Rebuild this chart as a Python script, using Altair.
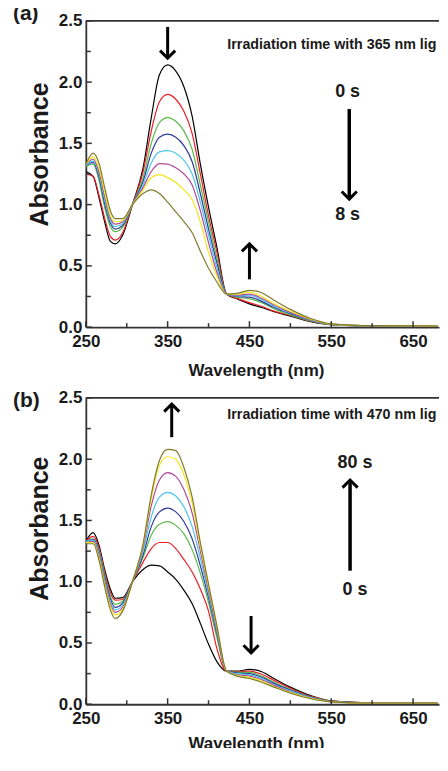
import altair as alt
import pandas as pd

# ---------------- data ----------------
wavelength = [250, 259, 266, 273, 280, 286, 295, 307, 320, 330, 340, 350, 360, 370,
              380, 390, 400, 410, 422, 435, 450, 465, 480, 500, 525, 550, 600, 680]

# (a) 365 nm irradiation, 0 s -> 8 s
a_black   = [1.27, 1.23, 1.06, 0.86, 0.70, 0.68, 0.75, 1.00, 1.30, 1.71, 2.06, 2.14, 2.09, 1.96,
             1.72, 1.33, 0.98, 0.66, 0.27, 0.23, 0.19, 0.16, 0.125, 0.09, 0.045, 0.02, 0.01, 0.01]
a_red     = [1.25, 1.23, 1.08, 0.89, 0.74, 0.71, 0.77, 1.00, 1.27, 1.60, 1.84, 1.90, 1.86, 1.76,
             1.58, 1.25, 0.91, 0.62, 0.27, 0.235, 0.20, 0.17, 0.13, 0.095, 0.048, 0.02, 0.01, 0.01]
a_green   = [1.31, 1.33, 1.20, 0.98, 0.82, 0.78, 0.815, 1.00, 1.22, 1.50, 1.67, 1.71, 1.68, 1.60,
             1.45, 1.16, 0.86, 0.57, 0.27, 0.245, 0.23, 0.20, 0.15, 0.10, 0.05, 0.02, 0.01, 0.01]
a_blue    = [1.32, 1.345, 1.23, 1.01, 0.85, 0.80, 0.83, 1.00, 1.19, 1.42, 1.55, 1.575, 1.55, 1.48,
             1.35, 1.09, 0.80, 0.53, 0.27, 0.25, 0.245, 0.21, 0.16, 0.11, 0.055, 0.022, 0.01, 0.01]
a_cyan    = [1.32, 1.355, 1.25, 1.04, 0.87, 0.82, 0.845, 1.00, 1.16, 1.34, 1.43, 1.44, 1.42, 1.36,
             1.25, 1.02, 0.75, 0.49, 0.27, 0.255, 0.26, 0.225, 0.17, 0.115, 0.057, 0.023, 0.01, 0.01]
a_magenta = [1.33, 1.37, 1.27, 1.07, 0.89, 0.84, 0.86, 1.00, 1.14, 1.27, 1.335, 1.33, 1.30, 1.25,
             1.16, 0.95, 0.69, 0.45, 0.27, 0.26, 0.27, 0.235, 0.18, 0.12, 0.06, 0.024, 0.01, 0.01]
a_yellow  = [1.33, 1.39, 1.30, 1.10, 0.91, 0.86, 0.87, 1.00, 1.12, 1.22, 1.245, 1.22, 1.18, 1.12,
             1.04, 0.86, 0.61, 0.42, 0.27, 0.27, 0.285, 0.25, 0.19, 0.13, 0.065, 0.025, 0.012, 0.01]
a_olive   = [1.33, 1.42, 1.34, 1.14, 0.95, 0.885, 0.885, 1.00, 1.09, 1.12, 1.09, 1.02, 0.94, 0.86,
             0.77, 0.62, 0.48, 0.37, 0.27, 0.275, 0.30, 0.28, 0.22, 0.145, 0.07, 0.027, 0.012, 0.01]

# (b) 470 nm irradiation, 0 s -> 80 s
b_black   = [1.33, 1.40, 1.30, 1.10, 0.94, 0.865, 0.87, 1.00, 1.10, 1.135, 1.13, 1.08, 1.02, 0.93,
             0.82, 0.66, 0.49, 0.35, 0.27, 0.27, 0.285, 0.265, 0.21, 0.14, 0.07, 0.027, 0.012, 0.01]
b_red     = [1.33, 1.37, 1.28, 1.08, 0.91, 0.85, 0.855, 1.00, 1.16, 1.27, 1.32, 1.32, 1.27, 1.18,
             1.08, 0.94, 0.76, 0.46, 0.27, 0.265, 0.27, 0.245, 0.195, 0.13, 0.065, 0.025, 0.011, 0.01]
b_green   = [1.33, 1.35, 1.26, 1.06, 0.88, 0.815, 0.84, 1.00, 1.20, 1.38, 1.47, 1.49, 1.46, 1.39,
             1.26, 1.07, 0.83, 0.55, 0.27, 0.26, 0.26, 0.23, 0.18, 0.12, 0.06, 0.024, 0.011, 0.01]
b_blue    = [1.33, 1.345, 1.25, 1.04, 0.86, 0.79, 0.825, 1.00, 1.22, 1.45, 1.57, 1.60, 1.57, 1.49,
             1.35, 1.13, 0.87, 0.58, 0.27, 0.255, 0.25, 0.22, 0.17, 0.115, 0.058, 0.023, 0.01, 0.01]
b_cyan    = [1.33, 1.34, 1.24, 1.02, 0.84, 0.77, 0.81, 1.00, 1.25, 1.53, 1.69, 1.73, 1.70, 1.61,
             1.45, 1.19, 0.90, 0.60, 0.27, 0.25, 0.24, 0.21, 0.16, 0.11, 0.055, 0.022, 0.01, 0.01]
b_magenta = [1.32, 1.33, 1.22, 1.00, 0.82, 0.75, 0.79, 1.00, 1.28, 1.62, 1.83, 1.89, 1.86, 1.75,
             1.56, 1.25, 0.93, 0.62, 0.27, 0.24, 0.23, 0.20, 0.155, 0.10, 0.05, 0.02, 0.01, 0.01]
b_yellow  = [1.32, 1.32, 1.20, 0.98, 0.80, 0.73, 0.775, 1.00, 1.30, 1.68, 1.95, 2.02, 2.00, 1.87,
             1.64, 1.29, 0.96, 0.64, 0.27, 0.235, 0.22, 0.19, 0.145, 0.095, 0.048, 0.02, 0.01, 0.01]
b_olive   = [1.31, 1.31, 1.18, 0.96, 0.77, 0.70, 0.76, 1.00, 1.31, 1.71, 1.99, 2.08, 2.07, 1.93,
             1.69, 1.32, 0.98, 0.65, 0.27, 0.23, 0.21, 0.18, 0.14, 0.09, 0.045, 0.02, 0.01, 0.01]

series = ["black", "red", "green", "blue", "cyan", "magenta", "yellow", "olive"]
line_colors = ["#000000", "#ed1c24", "#5bb947", "#2e3a97", "#4cc5ee", "#b0489c", "#f5e61b", "#7e7b2c"]

x_major = [250, 350, 450, 550, 650]
x_minor = [300, 400, 500, 600]
y_major = [0.0, 0.5, 1.0, 1.5, 2.0, 2.5]
y_minor = [0.25, 0.75, 1.25, 1.75, 2.25]

# ---------------- styling ----------------
W, H = 354, 307
FONT = "Liberation Sans, Arial, sans-serif"
INK = "#1a1a1a"
AX = "#333333"

x_scale = alt.Scale(domain=[250, 681.7], nice=False, zero=False)
y_scale = alt.Scale(domain=[0, 2.5], nice=False, zero=False)
x_axis = alt.Axis(values=x_major, ticks=False, grid=False, domainColor=AX,
                  domainWidth=1.8, labelFont=FONT, labelFontSize=17,
                  labelFontWeight="bold", labelColor=INK, labelPadding=6,
                  labelFlush=False, title=None)
y_axis = alt.Axis(values=y_major, format=".1f", ticks=False, grid=False,
                  domainColor=AX, domainWidth=1.8, labelFont=FONT,
                  labelFontSize=17, labelFontWeight="bold", labelColor=INK,
                  labelPadding=4, labelFlush=False, title=None)


def X(field):
    return alt.X(field, scale=x_scale, axis=x_axis)


def Y(field):
    return alt.Y(field, scale=y_scale, axis=y_axis)


def spectra(curves):
    rows = []
    for name, vals in zip(series, curves):
        for w, v in zip(wavelength, vals):
            rows.append({"wl": w, "A": v, "s": name})
    return pd.DataFrame(rows)


def panel(curves, tag, tag_y, note, note_x, note_y, short_arrows, long_arrows,
          labels, ytitle_y, xtitle_y):
    df = spectra(curves)
    lines = alt.Chart(df).mark_line(clip=True, strokeWidth=1.2, interpolate="monotone").encode(
        x=X("wl:Q"), y=Y("A:Q"),
        color=alt.Color("s:N", scale=alt.Scale(domain=series, range=line_colors), legend=None),
        order=alt.Order("wl:Q"),
    )

    top = alt.Chart(pd.DataFrame({"k": [0]})).mark_rule(color=AX, strokeWidth=1.8).encode(
        x=alt.value(0), x2=alt.value(W), y=alt.value(0))

    xmaj = alt.Chart(pd.DataFrame({"t": x_major})).mark_rule(color=AX, strokeWidth=1.5).encode(
        x=X("t:Q"), y=alt.value(H), y2=alt.value(H - 6))
    xmin = alt.Chart(pd.DataFrame({"t": x_minor})).mark_rule(color=AX, strokeWidth=1.5).encode(
        x=X("t:Q"), y=alt.value(H), y2=alt.value(H - 4))
    ymaj = alt.Chart(pd.DataFrame({"t": y_major})).mark_rule(color=AX, strokeWidth=1.5).encode(
        y=Y("t:Q"), x=alt.value(0), x2=alt.value(6))
    ymin = alt.Chart(pd.DataFrame({"t": y_minor})).mark_rule(color=AX, strokeWidth=1.5).encode(
        y=Y("t:Q"), x=alt.value(0), x2=alt.value(5))

    sa = pd.DataFrame(short_arrows, columns=["x", "y0", "tip", "dir"])
    la = pd.DataFrame(long_arrows, columns=["x", "y0", "tip", "dir"])
    allarrows = pd.concat([sa, la])

    def shafts(d, w):
        return alt.Chart(d).mark_rule(color="#000", strokeWidth=w).encode(
            x=X("x:Q"), y=Y("y0:Q"), y2="tip:Q")

    def heads(d, path):
        return alt.Chart(d).mark_point(shape=path, filled=False, color="#000", opacity=1,
                                       strokeWidth=3, size=230, strokeJoin="miter").encode(
            x=X("x:Q"), y=Y("tip:Q"))

    up = allarrows[allarrows["dir"] == "up"]
    down = allarrows[allarrows["dir"] == "down"]

    lab = alt.Chart(pd.DataFrame(labels, columns=["x", "y", "t"])).mark_text(
        font=FONT, fontSize=18, fontWeight="bold", color=INK, align="center",
        baseline="middle").encode(x=X("x:Q"), y=Y("y:Q"), text="t:N")

    nt = alt.Chart(pd.DataFrame({"x": [note_x], "y": [note_y], "t": [note]})).mark_text(
        font=FONT, fontSize=14.3, fontWeight="bold", color=INK, align="left",
        baseline="alphabetic", clip=True, limit=212, ellipsis="\u200b").encode(
        x=X("x:Q"), y=Y("y:Q"), text="t:N")

    one = pd.DataFrame({"k": [0]})
    tg = alt.Chart(one).mark_text(font=FONT, fontSize=21, fontWeight="bold", color=INK,
                                  align="left", baseline="middle", text=tag).encode(
        x=alt.value(-73), y=alt.value(tag_y))
    yt = alt.Chart(one).mark_text(font=FONT, fontSize=25, fontWeight="bold", color=INK,
                                  align="center", baseline="middle", angle=270,
                                  text="Absorbance").encode(
        x=alt.value(-46), y=alt.value(ytitle_y))
    xt = alt.Chart(one).mark_text(font=FONT, fontSize=17, fontWeight="bold", color=INK,
                                  align="center", baseline="middle",
                                  text="Wavelength (nm)").encode(
        x=alt.value(171), y=alt.value(xtitle_y))

    return alt.layer(
        lines, top, xmaj, xmin, ymaj, ymin,
        shafts(sa, 3), shafts(la, 3.5),
        heads(up, "M -1 1 L 0 0 L 1 1"), heads(down, "M -1 -1 L 0 0 L 1 -1"),
        lab, nt, tg, yt, xt,
    ).properties(width=W, height=H)


pa = panel(
    [a_black, a_red, a_green, a_blue, a_cyan, a_magenta, a_yellow, a_olive],
    "(a)", -7, "Irradiation time with 365 nm light", 423, 2.27,
    [(350, 2.45, 2.195, "down"), (450, 0.39, 0.68, "up")],
    [(572, 1.78, 1.045, "down")],
    [(570, 1.92, "0 s"), (570, 0.915, "8 s")],
    134, H + 44,
)

pb = panel(
    [b_black, b_red, b_green, b_blue, b_cyan, b_magenta, b_yellow, b_olive],
    "(b)", 3, "Irradiation time with 470 nm light", 423, 2.33,
    [(355, 2.18, 2.45, "up"), (452, 0.72, 0.42, "down")],
    [(573, 1.09, 1.83, "up")],
    [(579, 1.97, "80 s"), (579, 0.935, "0 s")],
    131, H + 40,
)

chart = alt.vconcat(pa, pb, spacing=10).properties(
    padding={"left": 5, "top": -6, "right": 0, "bottom": -5}
).configure_view(stroke=None)

chart.save("out.html", embed_options={"renderer": "svg", "actions": False})
